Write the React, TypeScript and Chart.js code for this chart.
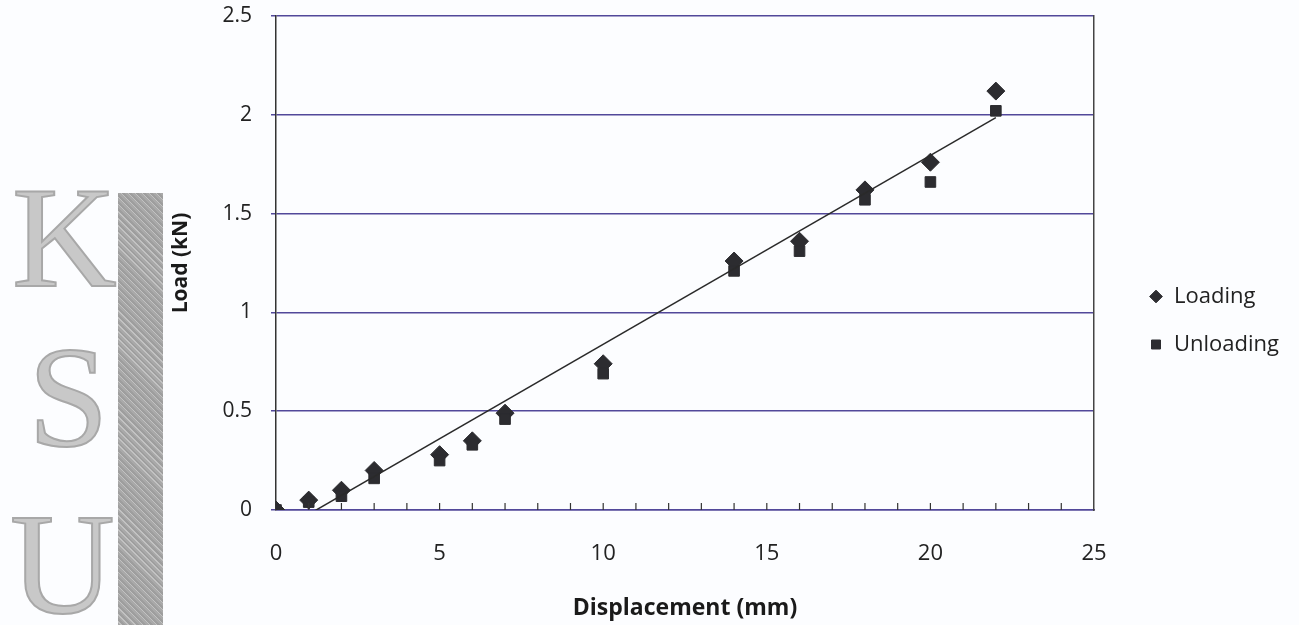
import React, { useEffect, useRef } from "react";
import { Chart, registerables } from "chart.js";

Chart.register(...registerables);

// ---- data ----
const displacement = [0, 1, 2, 3, 5, 6, 7, 10, 14, 16, 18, 20, 22];
const loadingLoad = [0, 0.05, 0.1, 0.2, 0.28, 0.35, 0.49, 0.74, 1.26, 1.36, 1.62, 1.76, 2.12];
const unloadingLoad = [0, 0.04, 0.07, 0.16, 0.25, 0.33, 0.46, 0.69, 1.21, 1.31, 1.57, 1.66, 2.02];
const seriesNames = ["Loading", "Unloading"];
const xLabelStep = 5;
const yStep = 0.5;
const xMax = 25;
const yMax = 2.5;
const xTitle = "Displacement (mm)";
const yTitle = "Load (kN)";

const FONT = "'Open Sans', 'DejaVu Sans', sans-serif";
const GRID = "#52489a";
const MARK = "#2c2c30";

function linearFit(xs: number[], ys: number[]) {
  const n = xs.length;
  const mx = xs.reduce((a, b) => a + b, 0) / n;
  const my = ys.reduce((a, b) => a + b, 0) / n;
  let sxy = 0;
  let sxx = 0;
  for (let i = 0; i < n; i++) {
    sxy += (xs[i] - mx) * (ys[i] - my);
    sxx += (xs[i] - mx) * (xs[i] - mx);
  }
  const slope = sxy / sxx;
  return { slope, intercept: my - slope * mx };
}

const innerTicks = {
  id: "innerTicks",
  afterDatasetsDraw(chart: any) {
    const x = chart.scales.x;
    const area = chart.chartArea;
    const ctx = chart.ctx;
    ctx.save();
    ctx.strokeStyle = "#333";
    ctx.lineWidth = 1.2;
    x.ticks.forEach((t: any) => {
      const px = x.getPixelForValue(t.value);
      if (px <= area.left + 1 || px >= area.right - 1) return;
      ctx.beginPath();
      ctx.moveTo(px, area.bottom);
      ctx.lineTo(px, area.bottom - 7);
      ctx.stroke();
    });
    ctx.restore();
  },
};

const noPad = (s: any) => {
  s.paddingTop = 0;
  s.paddingBottom = 0;
  s.paddingLeft = 0;
  s.paddingRight = 0;
};

export default function App() {
  const ref = useRef<HTMLCanvasElement>(null);

  useEffect(() => {
    const fit = linearFit(displacement, loadingLoad);
    const x0 = Math.min(...displacement);
    const x1 = Math.max(...displacement);
    const trend = [x0, x1].map((x) => ({ x, y: fit.intercept + fit.slope * x }));

    const chart = new Chart(ref.current!, {
      type: "scatter",
      data: {
        datasets: [
          {
            label: seriesNames[0],
            data: displacement.map((x, i) => ({ x, y: loadingLoad[i] })),
            pointStyle: "rectRot",
            pointRadius: 9,
            backgroundColor: MARK,
            borderColor: MARK,
            borderWidth: 1,
            order: 2,
          },
          {
            label: seriesNames[1],
            data: displacement.map((x, i) => ({ x, y: unloadingLoad[i] })),
            pointStyle: "rect",
            pointRadius: 7.5,
            backgroundColor: MARK,
            borderColor: MARK,
            borderWidth: 1,
            order: 1,
          },
          {
            type: "line",
            label: "Linear (Loading)",
            data: trend,
            borderColor: "#2a2a2a",
            borderWidth: 1.5,
            pointRadius: 0,
            fill: false,
            order: 0,
          } as any,
        ],
      },
      options: {
        animation: false,
        responsive: true,
        maintainAspectRatio: false,
        layout: { padding: { left: 168, top: 16, right: 10, bottom: 0 } },
        plugins: {
          tooltip: { enabled: false },
          legend: {
            position: "right",
            labels: {
              usePointStyle: true,
              boxWidth: 14,
              boxHeight: 9,
              padding: 26,
              color: "#222",
              font: { family: FONT, size: 22 },
              filter: (item: any) => item.datasetIndex < 2,
              sort: (a: any, b: any) => a.datasetIndex - b.datasetIndex,
            },
          },
        },
        scales: {
          x: {
            type: "linear",
            position: "bottom",
            min: 0,
            max: xMax,
            ticks: {
              stepSize: 1,
              autoSkip: false,
              maxRotation: 0,
              padding: 31,
              color: "#222",
              font: { family: FONT, size: 22 },
              callback: (v: any) => (Number(v) % xLabelStep === 0 ? String(v) : ""),
            },
            grid: { display: false, drawTicks: false },
            border: { display: true, color: GRID, width: 1.5 },
            title: {
              display: true,
              text: xTitle,
              color: "#1a1a1a",
              font: { family: FONT, size: 23, weight: "bold" },
              padding: { top: 0, bottom: 3 },
            },
            afterFit: (s: any) => {
              s.height = 115;
              noPad(s);
            },
          },
          y: {
            type: "linear",
            position: "left",
            min: 0,
            max: yMax,
            ticks: {
              stepSize: yStep,
              padding: 19,
              color: "#222",
              font: { family: FONT, size: 21 },
              callback: (v: any) => String(Number(v)),
            },
            grid: { color: GRID, lineWidth: 1.5, tickLength: 5 },
            border: { display: true, color: "#333", width: 1.5 },
            title: {
              display: true,
              text: yTitle,
              color: "#1a1a1a",
              font: { family: FONT, size: 21, weight: "bold" },
              padding: { top: 0, bottom: 0 },
            },
            afterFit: (s: any) => {
              s.width = 108;
              noPad(s);
            },
          },
          y2: {
            type: "linear",
            position: "right",
            display: true,
            min: 0,
            max: yMax,
            ticks: { display: false },
            grid: { display: false, drawTicks: false },
            border: { display: true, color: "#444", width: 1.5 },
            afterFit: (s: any) => {
              s.width = 29;
              noPad(s);
            },
          },
        },
      },
      plugins: [innerTicks],
    });
    return () => chart.destroy();
  }, []);

  const letter = (ch: string, top: number, left: number) => (
    <div
      style={{
        position: "absolute",
        top,
        left,
        fontFamily: "'Liberation Serif', serif",
        fontSize: 145,
        lineHeight: "145px",
        color: "#c8c8c8",
        WebkitTextStroke: "2px #a8a8a8",
      }}
    >
      {ch}
    </div>
  );

  return (
    <div style={{ position: "absolute", left: 0, top: 0, width: 1299, height: 625, background: "#fcfdff", overflow: "hidden" }}>
      {letter("K", 165, 12)}
      {letter("S", 325, 28)}
      {letter("U", 492, 10)}
      <div
        style={{
          position: "absolute",
          left: 118,
          top: 193,
          width: 45,
          height: 432,
          background:
            "repeating-linear-gradient(45deg, #a9a9a9 0 2px, #c2c2c2 2px 3px, #9e9e9e 3px 5px), #b0b0b0",
        }}
      />
      <canvas ref={ref} style={{ position: "absolute", left: 0, top: 0, width: 1299, height: 625 }} />
    </div>
  );
}
